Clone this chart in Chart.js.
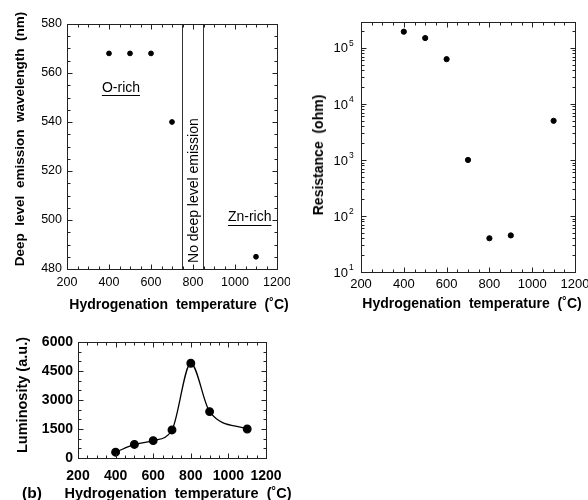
<!DOCTYPE html>
<html>
<head>
<meta charset="utf-8">
<script src="https://cdn.jsdelivr.net/npm/chart.js@4"></script>
<style>
  body { margin: 0; background: #fff; width: 588px; height: 500px; position: relative; overflow: hidden;
         font-family: "Liberation Sans", Arial, sans-serif; color: #000; }
  canvas { position: absolute; }
  .title { position: absolute; font-weight: bold; white-space: pre; line-height: 1; transform: translate(-50%, -50%); }
  .title.vert { transform: translate(-50%, -50%) rotate(-90deg); }
</style>
</head>
<body>
<canvas id="wavelengthChart" width="290" height="312" style="left:0;top:0"></canvas>
<canvas id="resistanceChart" width="298" height="312" style="left:290px;top:0"></canvas>
<canvas id="luminosityChart" width="300" height="180" style="left:0;top:320px"></canvas>

<div class="title" style="left:179px;top:304px;font-size:14px">Hydrogenation  temperature  (˚C)</div>
<div class="title vert" style="left:20px;top:139px;font-size:13.5px">Deep  level  emission  wavelength  (nm)</div>
<div class="title" style="left:472px;top:303px;font-size:14px">Hydrogenation  temperature  (˚C)</div>
<div class="title vert" style="left:318px;top:155px;font-size:14px">Resistance  (ohm)</div>
<div class="title" style="left:178px;top:493px;font-size:14.5px">Hydrogenation  temperature  (˚C)</div>
<div class="title vert" style="left:22px;top:395px;font-size:14.5px">Luminosity (a.u.)</div>
<div class="title" style="left:32px;top:493px;font-size:15.5px">(b)</div>

<script>
// data
const tempRange = [200, 1200];

const wavelengthTemps = [400, 500, 600, 700, 1100];
const wavelengthNm = [568, 568, 568, 540, 485];
const wavelengthRange = [480, 580];
const noEmissionBounds = [750, 850];

const resistanceTemps = [400, 500, 600, 700, 800, 900, 1100];
const resistanceOhm = [195000, 150000, 63000, 1000, 40, 45, 5000];
const resistanceRange = [10, 290000];
const resistanceExponents = [1, 2, 3, 4, 5];

const luminosityTemps = [400, 500, 600, 700, 800, 900, 1100];
const luminosityAU = [300, 700, 900, 1450, 4900, 2400, 1500];
const luminosityRange = [0, 6000];

const FONT = '"Liberation Sans", Arial, sans-serif';
Chart.defaults.font.family = FONT;
Chart.defaults.color = "#000";

function toPoints(xs, ys) {
  return xs.map((x, i) => ({ x: x, y: ys[i] }));
}

const plainNumber = (v) => String(v);

// force axis box sizes so the plot areas land where the figure has them
function fixSize(size) {
  return function (scale) {
    if (scale.isHorizontal()) scale.height = size;
    else scale.width = size;
    scale.paddingLeft = scale.paddingRight = scale.paddingTop = scale.paddingBottom = 0;
  };
}

// box frame + inward ticks on all four sides
function frameTicks(cfg) {
  const marks = (scale, minor, major) => {
    const out = [];
    if (scale.type === "logarithmic") {
      const e0 = Math.floor(Math.log10(scale.min));
      const e1 = Math.ceil(Math.log10(scale.max));
      for (let e = e0; e <= e1; e++) {
        for (let m = 1; m < 10; m++) {
          const v = m * Math.pow(10, e);
          if (v >= scale.min && v <= scale.max) out.push([v, m === 1]);
        }
      }
    } else {
      for (let v = scale.min; v <= scale.max + 1e-9; v += minor) {
        out.push([v, Math.abs(v / major - Math.round(v / major)) < 1e-6]);
      }
    }
    return out;
  };

  return {
    id: "frameTicks",
    afterDatasetsDraw(chart) {
      const ctx = chart.ctx;
      const a = chart.chartArea;
      const xs = chart.scales.x, ys = chart.scales.y;
      const L = Math.round(a.left) + 0.5, R = Math.round(a.right) + 0.5;
      const T = Math.round(a.top) + 0.5, B = Math.round(a.bottom) + 0.5;
      ctx.save();
      ctx.strokeStyle = "#222";
      ctx.lineWidth = 1;
      ctx.strokeRect(L, T, R - L, B - T);

      ctx.beginPath();
      marks(xs, cfg.xMinor, cfg.xMajor).forEach(([v, big]) => {
        const p = Math.round(xs.getPixelForValue(v)) + 0.5;
        const len = big ? 5 : 3;
        ctx.moveTo(p, B); ctx.lineTo(p, B - len);
        ctx.moveTo(p, T); ctx.lineTo(p, T + len);
      });
      marks(ys, cfg.yMinor, cfg.yMajor).forEach(([v, big]) => {
        const p = Math.round(ys.getPixelForValue(v)) + 0.5;
        const len = big ? 5 : 3;
        ctx.moveTo(L, p); ctx.lineTo(L + len, p);
        ctx.moveTo(R, p); ctx.lineTo(R - len, p);
      });
      ctx.stroke();
      ctx.restore();
    },
  };
}

const plainGrid = { display: false, drawTicks: false };

// ---- top left: deep level emission wavelength ----
const regionNotes = {
  id: "regionNotes",
  afterDatasetsDraw(chart) {
    const ctx = chart.ctx;
    const xs = chart.scales.x, ys = chart.scales.y;
    ctx.save();
    ctx.fillStyle = "#000";
    ctx.strokeStyle = "#000";
    ctx.lineWidth = 1;
    ctx.font = "14px " + FONT;
    ctx.textAlign = "center";
    ctx.textBaseline = "middle";
    [["O-rich", 457, 554], ["Zn-rich", 1070, 501]].forEach(([t, vx, vy]) => {
      const px = xs.getPixelForValue(vx), py = ys.getPixelForValue(vy);
      ctx.fillText(t, px, py);
      const w = ctx.measureText(t).width;
      ctx.beginPath();
      ctx.moveTo(px - w / 2, Math.round(py + 7) + 0.5);
      ctx.lineTo(px + w / 2, Math.round(py + 7) + 0.5);
      ctx.stroke();
    });
    ctx.translate(xs.getPixelForValue(800), ys.getPixelForValue(512));
    ctx.rotate(-Math.PI / 2);
    ctx.fillText("No deep level emission", 0, 1);
    ctx.restore();
  },
};

new Chart(document.getElementById("wavelengthChart"), {
  type: "scatter",
  data: {
    datasets: [
      {
        data: toPoints(wavelengthTemps, wavelengthNm),
        backgroundColor: "#000",
        borderColor: "#000",
        pointRadius: 2.4,
      },
    ].concat(noEmissionBounds.map((b) => ({
      type: "line",
      data: toPoints([b, b], wavelengthRange),
      borderColor: "#333",
      borderWidth: 1,
      pointRadius: 0,
    }))),
  },
  options: {
    responsive: false,
    animation: false,
    layout: { padding: { left: 0, right: 13, top: 24, bottom: 0 } },
    plugins: { legend: { display: false }, tooltip: { enabled: false } },
    scales: {
      x: {
        min: tempRange[0], max: tempRange[1],
        grid: plainGrid, border: { display: false },
        ticks: { stepSize: 200, padding: 6, maxRotation: 0, autoSkip: false, font: { size: 12.5 }, callback: plainNumber },
        afterFit: fixSize(43),
      },
      y: {
        min: wavelengthRange[0], max: wavelengthRange[1],
        grid: plainGrid, border: { display: false },
        ticks: { stepSize: 20, padding: 5, font: { size: 12.5 }, callback: plainNumber },
        afterFit: fixSize(67),
      },
    },
  },
  plugins: [frameTicks({ xMinor: 50, xMajor: 200, yMinor: 5, yMajor: 20 }), regionNotes],
});

// ---- top right: resistance (log) ----
const powerLabels = {
  id: "powerLabels",
  afterDraw(chart) {
    const ctx = chart.ctx;
    const ys = chart.scales.y;
    const right = chart.chartArea.left - 13;
    ctx.save();
    ctx.fillStyle = "#000";
    ctx.textBaseline = "middle";
    resistanceExponents.forEach((e) => {
      const py = ys.getPixelForValue(Math.pow(10, e));
      ctx.font = "13px " + FONT;
      ctx.textAlign = "right";
      ctx.fillText("10", right, py + 1);
      ctx.font = "8.5px " + FONT;
      ctx.textAlign = "left";
      ctx.fillText(String(e), right + 1, py - 4);
    });
    ctx.restore();
  },
};

new Chart(document.getElementById("resistanceChart"), {
  type: "scatter",
  data: {
    datasets: [
      {
        data: toPoints(resistanceTemps, resistanceOhm),
        backgroundColor: "#000",
        borderColor: "#000",
        pointRadius: 2.6,
      },
    ],
  },
  options: {
    responsive: false,
    animation: false,
    layout: { padding: { left: 0, right: 13, top: 22, bottom: 0 } },
    plugins: { legend: { display: false }, tooltip: { enabled: false } },
    scales: {
      x: {
        min: tempRange[0], max: tempRange[1],
        grid: plainGrid, border: { display: false },
        ticks: { stepSize: 200, padding: 5, maxRotation: 0, autoSkip: false, font: { size: 13 }, callback: plainNumber },
        afterFit: fixSize(40),
      },
      y: {
        type: "logarithmic",
        min: resistanceRange[0], max: resistanceRange[1],
        grid: plainGrid, border: { display: false },
        ticks: { display: false },
        afterFit: fixSize(71),
      },
    },
  },
  plugins: [frameTicks({ xMinor: 50, xMajor: 200 }), powerLabels],
});

// ---- bottom: luminosity ----
new Chart(document.getElementById("luminosityChart"), {
  type: "line",
  data: {
    datasets: [
      {
        data: toPoints(luminosityTemps, luminosityAU),
        borderColor: "#000",
        backgroundColor: "#000",
        borderWidth: 1.3,
        pointRadius: 3.8,
        cubicInterpolationMode: "monotone",
      },
    ],
  },
  options: {
    responsive: false,
    animation: false,
    layout: { padding: { left: 0, right: 34, top: 22, bottom: 0 } },
    plugins: { legend: { display: false }, tooltip: { enabled: false } },
    scales: {
      x: {
        type: "linear",
        min: tempRange[0], max: tempRange[1],
        grid: plainGrid, border: { display: false },
        ticks: { stepSize: 200, padding: 10, maxRotation: 0, autoSkip: false,
                 font: { size: 14, weight: "bold" }, callback: plainNumber },
        afterFit: fixSize(42),
      },
      y: {
        min: luminosityRange[0], max: luminosityRange[1],
        grid: plainGrid, border: { display: false },
        ticks: { stepSize: 1500, padding: 5, font: { size: 14, weight: "bold" }, callback: plainNumber },
        afterFit: fixSize(78),
      },
    },
  },
  plugins: [frameTicks({ xMinor: 50, xMajor: 200, yMinor: 500, yMajor: 1500 })],
});
</script>
</body>
</html>
